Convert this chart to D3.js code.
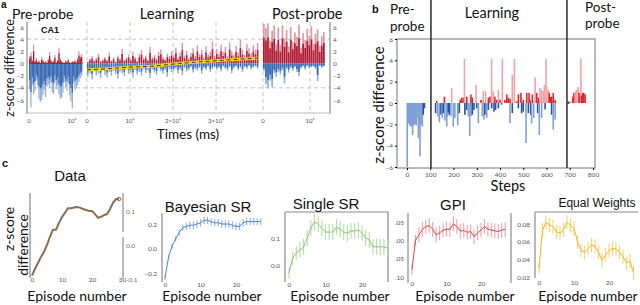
<!DOCTYPE html>
<html>
<head>
<meta charset="utf-8">
<script src="https://cdn.jsdelivr.net/npm/d3@7"></script>
<style>
body{margin:0;background:#fff}
svg{display:block}
text{font-family:Lato,"Open Sans",sans-serif;fill:#111}
.tk text{fill:#555;font-size:6.5px}
</style>
</head>
<body>
<script>
// ---- panel a : CA1 z-score difference, binned (ms per bin) ----
var preBinMs = 310, learnBinMs = 500, postBinMs = 440
var preUp = [1.2, 1.8, 0.6, 3.1, 0.4, 0.9, 0.3, 0.5, 0, 1.0, 0.6, 0.2, 0.4, 0, 0.8, 1.9, 0.7, 0.3, 0.5, 1.4,
  0.2, 0.6, 2.6, 0.9, 0.4, 0.2, 0, 0.5, 0.3, 0.8, 0.2, 0, 0.4, 0.3, 0.6, 0.2, 0.9, 2.0, 1.3, 1.6]
var preDown = [-4.2, -7.2, -3.5, -5.0, -4.5, -2.8, -3.6, -5.8, -6.3, -6.0, -5.2, -4.4, -5.5, -3.8, -3.4, -4.0, -3.2, -4.7, -5.0, -3.0,
  -4.2, -3.6, -5.1, -5.8, -5.6, -4.8, -3.1, -3.9, -4.5, -3.3, -5.2, -6.2, -7.4, -3.2, -4.4, -4.0, -3.6, -3.0, -2.4, -2.0]
var learnUp = [0.3, 0.8, 1.2, 0.5, 0.9, 1.6, 0.4, 0.7, 1.1, 0.6, 1.8, 0.5, 1.0, 0.3, 1.3, 0.8, 2.4, 0.6, 1.0, 1.5,
  0.7, 1.9, 1.1, 0.4, 1.6, 2.2, 0.9, 1.3, 0.6, 2.7, 1.0, 1.4, 0.8, 1.9, 2.3, 1.1, 0.7, 1.6, 1.2, 2.0,
  1.4, 2.6, 1.0, 1.8, 3.4, 1.3, 2.1, 0.9, 1.7, 2.5, 1.2, 3.0, 1.6, 2.2, 1.0, 2.8, 1.5, 1.9, 3.6, 1.3,
  2.4, 1.6, 3.1, 1.9, 2.7, 1.2, 3.5, 2.0, 1.5, 2.9, 1.8, 3.9, 2.2, 1.4, 3.2, 2.5, 1.7, 3.0, 2.3, 3.4]
var learnDown = [-2.2, -1.6, -2.6, -1.3, -2.0, -1.7, -2.4, -1.1, -1.9, -2.3, -1.4, -2.0, -1.2, -1.8, -2.5, -1.3, -1.6, -2.1, -1.0, -1.7,
  -1.5, -2.3, -1.1, -1.8, -1.4, -2.0, -0.9, -1.6, -1.2, -2.4, -1.0, -1.5, -1.9, -0.8, -1.3, -1.7, -1.1, -2.2, -0.9, -1.4,
  -1.2, -0.8, -1.6, -1.0, -1.9, -0.7, -1.3, -1.1, -0.6, -1.5, -0.9, -1.2, -0.7, -1.7, -0.8, -1.1, -0.5, -1.4, -0.9, -0.6,
  -1.0, -0.7, -1.3, -0.5, -0.9, -1.2, -0.6, -1.6, -0.8, -0.5, -1.1, -0.7, -1.4, -0.6, -0.9, -0.4, -1.0, -0.7, -0.5, -0.8]
var postUp = [6.5, 5.8, 6.6, 3.8, 5.4, 6.2, 3.2, 5.9, 3.0, 6.3, 4.2, 5.5, 2.8, 6.0, 3.6, 5.1, 4.4, 6.4, 2.6, 5.0,
  3.9, 5.7, 4.6, 6.1, 3.3, 4.9, 5.6, 2.9, 4.5, 5.2]
var postDown = [-1.2, -3.4, -4.1, -2.8, -3.9, -1.6, -2.2, -1.4, -1.8, -1.1, -3.3, -0.9, -1.5, -0.7, -1.2, -0.6, -1.4, -2.1, -0.8, -0.5,
  -1.0, -0.4, -0.8, -0.6, -0.5, -0.9, -2.9, -0.4, -0.7, -0.5]
var trendT = [0, 5000, 10000, 15000, 20000, 25000, 30000, 35000, 40000]
var trendV = [-1.05, -0.85, -0.6, -0.45, -0.1, 0.2, 0.45, 0.7, 0.9]
var aTicksY = [6, 4, 2, 0, -2, -4, -6]

// ---- panel b : model z-score difference per step ----
var bBlueSteps = [1, 6, 10, 13, 16, 20, 24, 29, 32, 36, 40, 43, 49, 53, 56, 62, 66, 70, 75,
  123, 132, 139, 146, 152, 156, 163, 171, 175, 178, 182, 189, 199, 206, 218, 225, 249, 257, 264, 270, 275,
  281, 288, 300, 307, 324, 331, 335, 343, 350, 364, 374, 381, 393, 407, 443, 453, 479, 493, 500, 512,
  522, 532, 536, 545, 562, 569, 579, 594, 622, 629, 637, 694]
var bBlueVals = [-6.0, -1.9, -2.0, -2.1, -2.2, -2.2, -3.0, -2.1, -2.0, -2.0, -2.1, -1.4, -3.3, -2.0, -5.0, -2.0, -2.2, -1.1, -0.5,
  -0.95, -1.25, -1.8, -1.1, -1.4, -0.95, -1.65, -2.2, -1.25, -0.85, -1.1, -1.25, -2.2, -1.4, -2.1, -0.95, -1.1, -0.65, -1.25, -3.1, -1.25,
  -1.1, -0.65, -0.5, -1.9, -1.25, -1.55, -1.1, -1.4, -0.65, -0.5, -0.8, -0.65, -0.5, -0.15, -1.9, -0.95, -0.5, -0.95, -0.8, -3.75,
  -0.95, -1.1, -1.9, -1.4, -0.95, -3.0, -1.4, -0.6, -1.1, -2.5, -1.55, -0.1]
var bRedSteps = [128, 161, 192, 229, 235, 242, 247, 257, 275, 281, 297, 318, 328, 338, 350, 357, 364, 371, 378, 386,
  393, 400, 410, 421, 429, 436, 443, 453, 462, 472, 479, 490, 500, 515, 525, 529, 539, 551, 558, 565,
  572, 579, 586, 591, 598, 601, 608, 612, 618, 622, 629, 637,
  694, 700, 713, 718, 724, 730, 736, 740, 744, 748, 751, 756, 760, 766]
var bRedVals = [0.2, 0.6, 1.4, 0.3, 0.5, 0.5, 4.15, 0.6, 0.8, 0.5, 1.7, 0.3, 1.1, 1.1, 0.5, 0.6, 4.15, 1.1, 0.6, 0.3,
  1.25, 0.3, 4.15, 0.3, 0.8, 0.5, 0.4, 2.65, 4.15, 0.15, 0.8, 0.95, 0.3, 0.95, 0.95, 0.3, 0.8, 2.4, 0.95, 0.5,
  1.4, 1.25, 1.1, 1.7, 4.15, 1.55, 1.25, 0.95, 0.55, 0.6, 0.95, 0.3,
  0.15, 0.1, 0.6, 0.95, 1.1, 1.25, 1.5, 0.95, 0.6, 4.15, 0.7, 0.95, 0.95, 0.8]
var bTicksX = [0, 100, 200, 300, 400, 500, 600, 700, 800]
var bTicksY = [6, 4, 2, 0, -2, -4, -6]
var bPhaseSteps = [103, 688]

// ---- panel c : per-episode curves (mean, error) ----
var dataVals = [-0.09, -0.07, -0.053, -0.035, -0.02, 0.0, 0.025, 0.045, 0.045, 0.065, 0.082, 0.095, 0.108, 0.108, 0.11,
  0.112, 0.11, 0.106, 0.103, 0.1, 0.1, 0.091, 0.08, 0.083, 0.088, 0.091, 0.106, 0.124, 0.135, 0.135]
var bayesVals = [-0.24, -0.07, 0.02, 0.08, 0.13, 0.17, 0.18, 0.19, 0.19, 0.2, 0.21, 0.23, 0.23, 0.22, 0.21,
  0.21, 0.2, 0.2, 0.2, 0.19, 0.18, 0.18, 0.21, 0.22, 0.22, 0.22, 0.22, 0.22]
var bayesErr = [0.02, 0.02, 0.02, 0.02, 0.025, 0.025, 0.03, 0.03, 0.03, 0.03, 0.03, 0.03, 0.03, 0.03, 0.03,
  0.03, 0.03, 0.03, 0.03, 0.03, 0.03, 0.03, 0.03, 0.03, 0.03, 0.03, 0.03, 0.03]
var singleVals = [-0.03, 0.025, 0.045, 0.056, 0.067, 0.1, 0.137, 0.16, 0.15, 0.137, 0.122, 0.122, 0.122, 0.14, 0.133,
  0.122, 0.118, 0.126, 0.126, 0.13, 0.118, 0.1, 0.093, 0.067, 0.068, 0.067, 0.067, 0.063]
var singleErr = [0.02, 0.025, 0.025, 0.03, 0.03, 0.03, 0.03, 0.03, 0.03, 0.03, 0.03, 0.03, 0.03, 0.03, 0.03,
  0.03, 0.03, 0.03, 0.03, 0.03, 0.03, 0.03, 0.03, 0.03, 0.03, 0.03, 0.03, 0.03]
var gpiVals = [-0.08, 0.0, 0.015, 0.03, 0.037, 0.04, 0.03, 0.015, 0.02, 0.028, 0.03, 0.03, 0.045, 0.038, 0.025,
  0.027, 0.022, 0.024, 0.01, 0.02, 0.028, 0.038, 0.03, 0.028, 0.026, 0.024, 0.028, 0.03]
var gpiErr = [0.015, 0.015, 0.02, 0.02, 0.02, 0.02, 0.02, 0.02, 0.02, 0.02, 0.02, 0.02, 0.02, 0.02, 0.02,
  0.02, 0.02, 0.02, 0.02, 0.02, 0.02, 0.02, 0.02, 0.02, 0.02, 0.02, 0.02, 0.02]
var equalVals = [0.03, 0.073, 0.082, 0.079, 0.077, 0.071, 0.07, 0.073, 0.082, 0.078, 0.075, 0.06, 0.05, 0.048, 0.052,
  0.056, 0.055, 0.048, 0.039, 0.045, 0.05, 0.052, 0.052, 0.048, 0.043, 0.036, 0.038, 0.025]
var equalErr = [0.006, 0.008, 0.008, 0.008, 0.008, 0.008, 0.008, 0.008, 0.008, 0.008, 0.008, 0.008, 0.008, 0.008, 0.008,
  0.008, 0.008, 0.008, 0.008, 0.008, 0.008, 0.008, 0.008, 0.008, 0.008, 0.008, 0.008, 0.008]
var episodeTicks = [0, 10, 20]

var svg = d3.select("body").append("svg").attr("width", 640).attr("height", 305)

function label(x, y, txt, size, opts){
  opts = opts || {}
  var t = svg.append("text")
    .attr("x", x).attr("y", y)
    .attr("font-size", size)
    .attr("text-anchor", opts.anchor || "start")
  if (Array.isArray(txt)) {
    // two-line label as one text element
    txt.forEach(function(s, i){
      t.append("tspan").attr("x", x).attr("dy", i == 0 ? 0 : opts.lh).text(s)
    })
  } else t.text(txt)
  if (opts.bold) t.attr("font-weight", "bold").style("font-family", "'Liberation Sans',Arial,sans-serif")
  if (opts.arial) t.style("font-family", "'Liberation Sans',Arial,sans-serif")
  if (opts.rot) t.attr("transform", "rotate(-90," + x + "," + y + ")")
  if (opts.fill) t.style("fill", opts.fill)
  return t
}

function spine(g, x1, y1, x2, y2, col){
  g.append("line").attr("x1", x1).attr("y1", y1).attr("x2", x2).attr("y2", y2)
    .attr("stroke", col || "#8a8a8a").attr("stroke-width", 1.2)
}

function time_label(t){
  if (t == 0) return "0"
  var k = t / 1e4
  return (k == 1 ? "" : k + "\u00d7") + "10\u2074"
}

function draw_panel_a(){
  var g = svg.append("g").attr("id", "panel_a")
  var y = d3.scaleLinear().domain([-6, 6]).range([100, 27])
  var segs = [
    {x: d3.scaleLinear().domain([0, 1e4]).range([29, 72]), bin: preBinMs, up: preUp, down: preDown, w: 1.25, ticks: [0, 1e4]},
    {x: d3.scaleLinear().domain([0, 1e4]).range([87, 130]), bin: learnBinMs, up: learnUp, down: learnDown, w: 1.5, ticks: [0, 1e4, 2e4, 3e4]},
    {x: d3.scaleLinear().domain([0, 1e4]).range([263, 310]), bin: postBinMs, up: postUp, down: postDown, w: 1.7, ticks: [0, 1e4]}
  ]

  // dashed grid
  g.selectAll(".hgrid").data([4, -4]).enter().append("line")
    .attr("x1", 27).attr("x2", 330)
    .attr("y1", function(d){ return y(d) }).attr("y2", function(d){ return y(d) })
    .attr("stroke", "#b5b5b5").attr("stroke-width", 0.8).attr("stroke-dasharray", "4,3")
  segs.slice(1).forEach(function(s){
    g.selectAll(null).data(s.ticks).enter().append("line")
      .attr("x1", function(d){ return s.x(d) }).attr("x2", function(d){ return s.x(d) })
      .attr("y1", 22).attr("y2", 113)
      .attr("stroke", "#b5b5b5").attr("stroke-width", 0.8).attr("stroke-dasharray", "4,3")
  })

  segs.forEach(function(s){
    var gs = g.append("g")
    gs.selectAll(".up").data(s.up).enter().append("rect")
      .attr("x", function(d, i){ return s.x(i * s.bin) }).attr("width", s.w)
      .attr("y", function(d){ return y(d) }).attr("height", function(d){ return y(0) - y(d) })
      .attr("fill", "#dc9aa5")
    gs.selectAll(".upd").data(s.up).enter().append("rect")
      .attr("x", function(d, i){ return s.x(i * s.bin) }).attr("width", s.w)
      .attr("y", function(d){ return y(d * 0.65) }).attr("height", function(d){ return y(0) - y(d * 0.65) })
      .attr("fill", "#b01d35")
    gs.selectAll(".dn").data(s.down).enter().append("rect")
      .attr("x", function(d, i){ return s.x(i * s.bin) }).attr("width", s.w)
      .attr("y", y(0)).attr("height", function(d){ return y(d) - y(0) })
      .attr("fill", "#93b0db")
    gs.selectAll(".dnd").data(s.down).enter().append("rect")
      .attr("x", function(d, i){ return s.x(i * s.bin) }).attr("width", s.w)
      .attr("y", y(0)).attr("height", function(d){ return y(d * 0.65) - y(0) })
      .attr("fill", "#3a6ab4")
    // tick labels
    gs.selectAll(".tl").data(s.ticks).enter().append("text")
      .attr("x", function(d){ return s.x(d) }).attr("y", 123)
      .attr("text-anchor", "middle").attr("font-size", 6).style("fill", "#555")
      .text(time_label)
  })
  // red zero line of the pre-probe
  g.append("line").attr("x1", segs[0].x(0)).attr("x2", segs[0].x(preUp.length * preBinMs))
    .attr("y1", y(0)).attr("y2", y(0)).attr("stroke", "#b01d35").attr("stroke-width", 1)

  // trend line during learning
  var lx = segs[1].x
  var line = d3.line().x(function(d, i){ return lx(trendT[i]) }).y(function(d){ return y(d) }).curve(d3.curveMonotoneX)
  g.append("path").attr("d", line(trendV)).attr("fill", "none").attr("stroke", "#f3d51c").attr("stroke-width", 3)
  g.append("path").attr("d", line(trendV)).attr("fill", "none").attr("stroke", "#333").attr("stroke-width", 1).attr("stroke-dasharray", "4,3")

  // spines + axes
  spine(g, 27, 22, 27, 114)
  spine(g, 330, 22, 330, 114)
  spine(g, 27, 113, 330, 113, "#bbb")
  g.append("g").attr("class", "tk").attr("transform", "translate(27,0)")
    .call(d3.axisLeft(y).tickValues(aTicksY).tickSize(0).tickPadding(3))
    .call(function(a){ a.select(".domain").remove() })
  g.append("g").attr("class", "tk").attr("transform", "translate(330,0)")
    .call(d3.axisRight(y).tickValues(aTicksY).tickSize(0).tickPadding(3))
    .call(function(a){ a.select(".domain").remove() })

  label(1, 8, "a", 10, {bold: true})
  label(41, 33, "CA1", 9, {bold: true})
  label(12, 19, "Pre-probe", 14)
  label(167, 19, "Learning", 14.5, {anchor: "middle"})
  label(272, 19, "Post-probe", 14.5)
  label(14, 68, "z-score difference", 12.5, {anchor: "middle", rot: true})
  label(188, 138.5, "Times (ms)", 13.5, {anchor: "middle"})
}

function draw_panel_b(){
  var g = svg.append("g").attr("id", "panel_b")
  var x = d3.scaleLinear().domain([0, 800]).range([407, 593])
  var y = d3.scaleLinear().domain([-6, 6]).range([167, 39])
  g.append("rect").attr("x", 397).attr("y", 39).attr("width", 198).attr("height", 129)
    .attr("fill", "none").attr("stroke", "#8a8a8a").attr("stroke-width", 1.2)

  g.selectAll(".bb").data(bBlueVals).enter().append("rect")
    .attr("x", function(d, i){ return x(bBlueSteps[i]) - 0.8 }).attr("width", 1.6)
    .attr("y", y(0)).attr("height", function(d){ return y(d) - y(0) })
    .attr("fill", function(d){ return d < -1.2 ? "#7fa1d6" : "#24529f" })
  g.selectAll(".br").data(bRedVals).enter().append("rect")
    .attr("x", function(d, i){ return x(bRedSteps[i]) - 0.8 }).attr("width", 1.6)
    .attr("y", function(d){ return y(d) }).attr("height", function(d){ return y(0) - y(d) })
    .attr("fill", function(d){ return d > 1 ? "#f3a2a8" : "#e3232c" })

  g.selectAll(".ph").data(bPhaseSteps).enter().append("line")
    .attr("x1", function(d){ return x(d) }).attr("x2", function(d){ return x(d) })
    .attr("y1", 0).attr("y2", 168).attr("stroke", "#1a1a1a").attr("stroke-width", 1.4)

  g.append("g").attr("class", "tk").attr("transform", "translate(397,0)")
    .call(d3.axisLeft(y).tickValues(bTicksY).tickSize(2).tickPadding(2))
    .call(function(a){ a.select(".domain").remove() })
  g.append("g").attr("class", "tk").attr("transform", "translate(0,168)")
    .call(d3.axisBottom(x).tickValues(bTicksX).tickSize(2).tickPadding(2))
    .call(function(a){ a.select(".domain").remove() })

  label(372, 13, "b", 11, {bold: true})
  label(390, 14, ["Pre-", "probe"], 13.5, {lh: 16.5})
  label(492, 18, "Learning", 14.5, {anchor: "middle"})
  label(585, 11.5, ["Post-", "probe"], 13.5, {lh: 16.5})
  label(384, 105, "z-score difference", 15, {anchor: "middle", rot: true})
  label(508, 191, "Steps", 14.5, {anchor: "middle"})
}

function draw_curve(p){
  var g = svg.append("g")
  var x = d3.scaleLinear().domain([0, 10]).range(p.xr)
  var y = d3.scaleLinear().domain(p.yd).range(p.yr)
  p.spines.forEach(function(s){ spine(g, s[0], s[1], s[2], s[3]) })
  if (p.err) {
    g.selectAll(".eb").data(p.vals).enter().append("line")
      .attr("x1", function(d, i){ return x(i) }).attr("x2", function(d, i){ return x(i) })
      .attr("y1", function(d, i){ return y(d + p.err[i]) }).attr("y2", function(d, i){ return y(d - p.err[i]) })
      .attr("stroke", p.light).attr("stroke-width", 1.1)
  }
  g.append("path").datum(p.vals)
    .attr("d", d3.line().x(function(d, i){ return x(i) }).y(function(d){ return y(d) }))
    .attr("fill", "none").attr("stroke", p.color).attr("stroke-width", p.lw || 1)
  g.append("g").attr("class", "tk").attr("transform", "translate(" + p.yAxisX + ",0)")
    .call((p.right ? d3.axisRight(y) : d3.axisLeft(y)).tickValues(p.yTicks).tickFormat(function(d, i){ return p.yLabels[i] }).tickSize(0).tickPadding(3))
    .call(function(a){ a.select(".domain").remove(); if (p.tickFill) a.selectAll("text").style("fill", p.tickFill) })
  g.append("g").attr("class", "tk").attr("transform", "translate(0," + p.xAxisY + ")")
    .call(d3.axisBottom(x).tickValues(p.xTicks).tickSize(0).tickPadding(0))
    .call(function(a){ a.select(".domain").remove() })
  label(p.titleX, p.titleY, p.title, p.titleSize || 15, {anchor: "middle", arial: true})
  label(p.xlabX, 301, "Episode number", 14, {anchor: "middle"})
  return {g: g, x: x, y: y}
}

function draw_panel_c(){
  label(2, 167, "c", 11, {bold: true})
  label(14, 229, "z-score", 14, {anchor: "middle", rot: true})
  label(28, 245, "difference", 14, {anchor: "middle", rot: true})

  var d = draw_curve({vals: dataVals, color: "#8b6e52", lw: 2, xr: [32, 62], yd: [-0.1, 0.1], yr: [279, 211],
    spines: [[30, 193, 30, 278], [123, 193, 123, 232], [123, 237, 123, 278]],
    yAxisX: 123, right: true, yTicks: [0.1, 0, -0.1], yLabels: ["0.1", "0.0", "-0.1"], tickFill: "#8b6a48",
    xAxisY: 277, xTicks: [0, 10, 20, 30], title: "Data", titleX: 70, titleY: 181, xlabX: 77})
  d.g.append("circle").attr("cx", d.x(dataVals.length - 1)).attr("cy", d.y(dataVals[dataVals.length - 1]))
    .attr("r", 1.8).attr("fill", "none").attr("stroke", "#8b6e52").attr("stroke-width", 1)

  draw_curve({vals: bayesVals, err: bayesErr, color: "#4f86d4", light: "#8fb3e6", xr: [165, 200.5], yd: [-0.2, 0.2], yr: [273, 224],
    spines: [[162, 213, 162, 282]], yAxisX: 160, yTicks: [0.2, 0, -0.2], yLabels: ["0.2", "0.0", "\u22120.2"],
    xAxisY: 282, xTicks: episodeTicks, title: "Bayesian SR", titleX: 208, titleY: 212, xlabX: 212})

  draw_curve({vals: singleVals, err: singleErr, color: "#8cc472", light: "#b8dca6", xr: [289, 325.5], yd: [0, 0.1], yr: [265, 238],
    spines: [[285, 212, 285, 282], [285, 212, 388, 212], [388, 212, 388, 282]], yAxisX: 283, yTicks: [0.1, 0], yLabels: ["0.1", "0.0"],
    xAxisY: 282, xTicks: episodeTicks, title: "Single SR", titleX: 326, titleY: 209, xlabX: 340})

  draw_curve({vals: gpiVals, err: gpiErr, color: "#e0464f", light: "#f0a3a8", xr: [412, 446.5], yd: [-0.1, 0.05], yr: [277, 222],
    spines: [[408, 213, 408, 283], [511, 213, 511, 283]], yAxisX: 407, yTicks: [0.05, 0, -0.05, -0.1], yLabels: [".05", ".00", ".05", ".10"],
    xAxisY: 281, xTicks: episodeTicks, title: "GPI", titleX: 453, titleY: 210, xlabX: 465})

  draw_curve({vals: equalVals, err: equalErr, color: "#f5b51f", light: "#f9d27a", xr: [539, 574], yd: [0.02, 0.08], yr: [277, 224],
    spines: [[535, 212, 638, 212], [535, 212, 535, 278]], yAxisX: 533, yTicks: [0.08, 0.06, 0.04, 0.02], yLabels: ["0.08", "0.06", "0.04", "0.02"],
    xAxisY: 280, xTicks: episodeTicks, title: "Equal Weights", titleX: 597, titleY: 207, titleSize: 12, xlabX: 588})
}

draw_panel_a()
draw_panel_b()
draw_panel_c()
</script>
</body>
</html>
